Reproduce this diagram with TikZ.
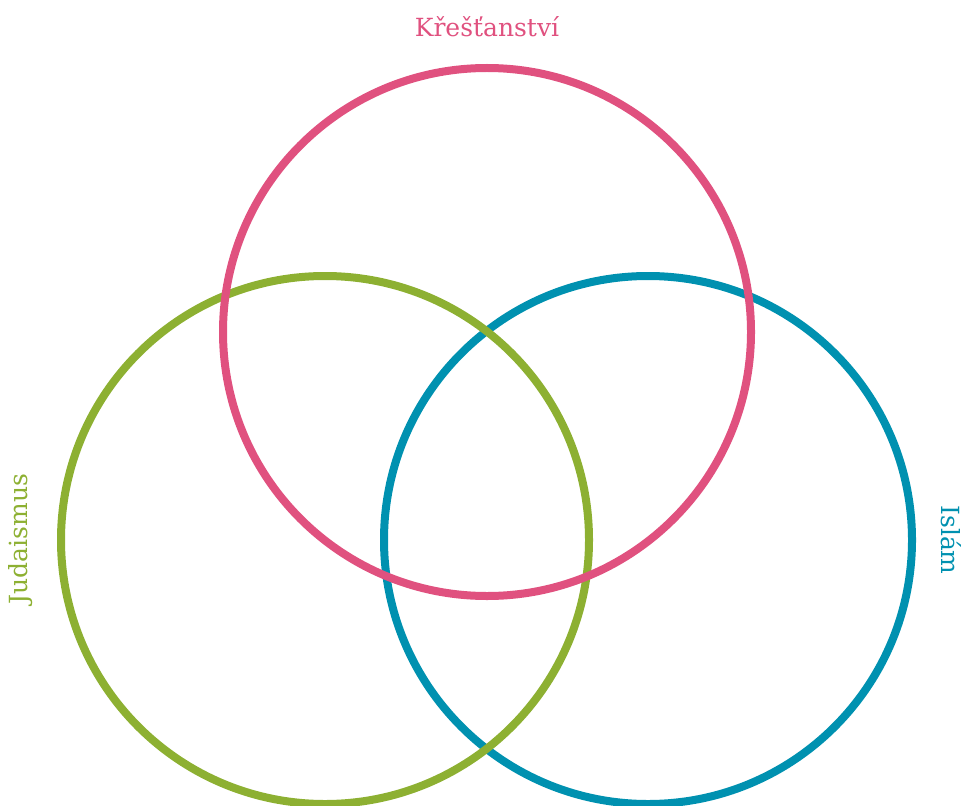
\documentclass[tikz,border=0pt]{standalone}
\usepackage{fontspec}
\setmainfont{DejaVu Serif}
\usetikzlibrary{positioning}
\definecolor{krestcol}{HTML}{E0517F}
\definecolor{judcol}{HTML}{8DB032}
\definecolor{islcol}{HTML}{0091B0}
\begin{document}
\begin{tikzpicture}[
    x=1pt, y=-1pt,
    ring/.style={draw, circle, line width=8pt, minimum size=528pt, inner sep=0pt},
    lbl/.style={font=\fontsize{25}{30}\selectfont, inner sep=0pt}
]
\useasboundingbox (0,0) rectangle (965,805);
% circles, back to front
\node[ring, islcol]   (islam) at (648,540) {};
\node[ring, judcol]   (jud)   at (325,540) {};
\node[ring, krestcol] (krest) at (487,332) {};

\node[lbl, text=krestcol] (krestlbl) at (487,27) {Křešťanství};
\node[lbl, text=judcol, rotate=90] (judlbl) at (21,539) {Judaismus};
\node[lbl, text=islcol, rotate=-90] (isllbl) at (951,540) {Islám};
\end{tikzpicture}
\end{document}
